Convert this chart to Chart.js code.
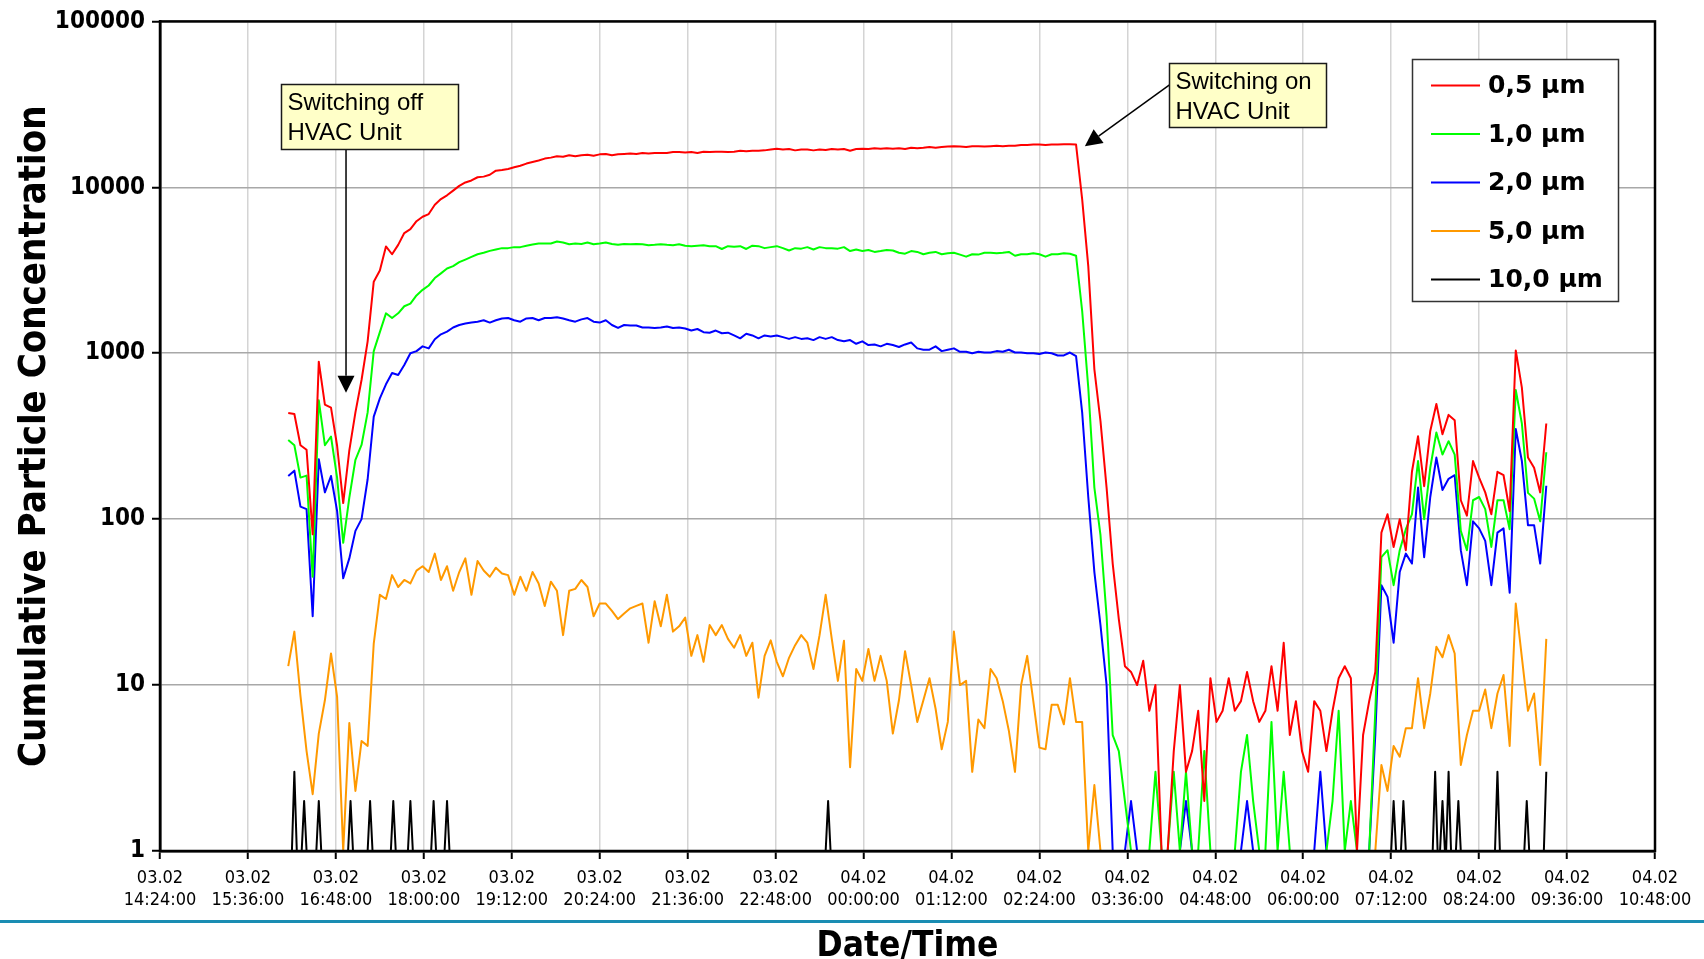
<!DOCTYPE html>
<html>
<head>
<meta charset="utf-8">
<title>Cumulative Particle Concentration</title>
<script src="https://cdn.jsdelivr.net/npm/chart.js@4.4.1/dist/chart.umd.min.js"></script>
<style>
  html, body { margin: 0; padding: 0; background: #fff; }
  #wrap { width: 1704px; height: 959px; position: relative; }
</style>
</head>
<body>
<div id="wrap"><canvas id="particleChart" width="1704" height="959"></canvas></div>
<script>
// x axis: minutes after 03.02 14:24:00
const tickMinutes = [0, 72, 144, 216, 288, 360, 432, 504, 576, 648, 720, 792, 864, 936, 1008, 1080, 1152, 1224];
const tickDates = ['03.02', '03.02', '03.02', '03.02', '03.02', '03.02', '03.02', '03.02',
  '04.02', '04.02', '04.02', '04.02', '04.02', '04.02', '04.02', '04.02', '04.02', '04.02'];
const tickTimes = ['14:24:00', '15:36:00', '16:48:00', '18:00:00', '19:12:00', '20:24:00', '21:36:00', '22:48:00',
  '00:00:00', '01:12:00', '02:24:00', '03:36:00', '04:48:00', '06:00:00', '07:12:00', '08:24:00', '09:36:00', '10:48:00'];
const yTickValues = [1, 10, 100, 1000, 10000, 100000];
const yTickLabels = ['1', '10', '100', '1000', '10000', '100000'];

const seriesLabels = ['0,5 µm', '1,0 µm', '2,0 µm', '5,0 µm', '10,0 µm'];

// counter samples, one every 5 minutes from 16:09
const startMinute = 105;
const stepMinutes = 5;

const red = [
  436, 430, 279, 262, 81, 890, 490, 470, 277, 125,
  260, 440, 690, 1180, 2700, 3150, 4400, 3950, 4500, 5300,
  5600, 6250, 6650, 6900, 7850, 8500, 8950, 9550, 10200, 10700,
  11000, 11500, 11600, 11900, 12600, 12700, 12900, 13200, 13500, 13900,
  14200, 14500, 14900, 15100, 15400, 15300, 15600, 15400, 15600, 15700,
  15500, 15800, 15900, 15600, 15800, 15900, 16000, 15900, 16100, 16000,
  16100, 16100, 16100, 16300, 16300, 16200, 16300, 16100, 16400, 16300,
  16400, 16400, 16300, 16400, 16600, 16500, 16600, 16600, 16700, 16900,
  17100, 16900, 17000, 16700, 16900, 16900, 16700, 16900, 16800, 17000,
  16900, 17000, 16600, 17000, 17100, 17000, 17200, 17100, 17200, 17100,
  17200, 17000, 17300, 17200, 17300, 17500, 17300, 17500, 17600, 17700,
  17600, 17500, 17700, 17700, 17600, 17700, 17800, 17700, 17800, 17800,
  18000, 18000, 18100, 18100, 18000, 18100, 18100, 18200, 18200, 18100,
  8500, 3350, 800, 390, 155, 54, 25, 13, 12, 10,
  14, 7, 10, 1, 1, 4, 10, 3, 4, 7,
  2, 11, 6, 7, 11, 7, 8, 12, 8, 6,
  7, 13, 7, 18, 5, 8, 4, 3, 8, 7,
  4, 7, 11, 13, 11, 1, 5, 8, 12, 83,
  107, 68, 100, 65, 193, 316, 158, 340, 495, 325,
  425, 395, 130, 105, 224, 178, 145, 107, 193, 184,
  112, 1040, 620, 235, 204, 145, 377
];

const green = [
  300, 279, 178, 183, 45, 520, 279, 315, 178, 72,
  135, 228, 280, 440, 1030, 1340, 1740, 1630, 1740, 1920,
  1990, 2230, 2410, 2560, 2840, 3030, 3240, 3350, 3540, 3670,
  3810, 3950, 4030, 4140, 4220, 4300, 4300, 4360, 4360, 4450,
  4520, 4580, 4580, 4590, 4710, 4650, 4540, 4590, 4560, 4650,
  4540, 4590, 4650, 4560, 4500, 4560, 4540, 4560, 4540, 4480,
  4500, 4540, 4500, 4480, 4540, 4450, 4420, 4450, 4480, 4420,
  4420, 4250, 4420, 4390, 4420, 4250, 4450, 4420, 4300, 4360,
  4420, 4300, 4160, 4300, 4270, 4360, 4220, 4360, 4300, 4300,
  4270, 4360, 4130, 4220, 4130, 4190, 4080, 4130, 4190, 4160,
  4030, 3980, 4130, 4080, 3950, 4030, 4080, 3950, 4000, 4030,
  3930, 3820, 3950, 3930, 4030, 4030, 4000, 4030, 4080, 3870,
  3950, 3950, 4000, 3950, 3820, 3950, 3950, 4000, 3980, 3870,
  1800, 620, 155, 80, 26, 5, 4, 2, 1, 1,
  1, 1, 3, 1, 1, 3, 1, 3, 1, 1,
  4, 1, 1, 1, 1, 1, 3, 5, 2, 1,
  1, 6, 1, 3, 1, 1, 1, 1, 1, 1,
  1, 2, 7, 1, 2, 1, 1, 1, 7, 59,
  65, 40, 65, 87, 107, 224, 100, 204, 333, 245,
  295, 245, 85, 65, 130, 136, 115, 68, 130, 130,
  87, 600, 377, 144, 133, 97, 253
];

const blue = [
  182, 196, 119, 115, 26, 230, 145, 182, 112, 44,
  58, 85, 100, 174, 415, 535, 650, 760, 740, 850,
  1000, 1030, 1100, 1070, 1215, 1300, 1350, 1430, 1480, 1510,
  1530, 1550, 1580, 1530, 1580, 1620, 1630, 1580, 1550, 1620,
  1630, 1580, 1630, 1630, 1650, 1620, 1580, 1550, 1600, 1630,
  1550, 1530, 1580, 1480, 1420, 1480, 1470, 1470, 1430, 1430,
  1420, 1430, 1450, 1420, 1430, 1410, 1370, 1400, 1340, 1330,
  1370, 1320, 1330, 1280, 1230, 1310, 1280, 1230, 1280, 1260,
  1280, 1250, 1220, 1250, 1220, 1230, 1200, 1250, 1220, 1250,
  1200, 1180, 1200, 1140, 1180, 1120, 1130, 1100, 1140, 1120,
  1090, 1130, 1160, 1070, 1050, 1050, 1100, 1030, 1050, 1070,
  1020, 1020, 1000, 1020, 1010, 1010, 1030, 1020, 1050, 1010,
  1010, 1000, 1000, 990, 1010, 1000, 970, 970, 1010, 960,
  440, 136, 48, 23, 10, 1, 1, 1, 2, 1,
  1, 1, 1, 1, 1, 1, 1, 2, 1, 1,
  1, 1, 1, 1, 1, 1, 1, 2, 1, 1,
  1, 1, 1, 1, 1, 1, 1, 1, 1, 3,
  1, 1, 1, 1, 1, 1, 1, 1, 5, 40,
  34, 18, 48, 62, 54, 155, 59, 136, 235, 150,
  175, 184, 65, 40, 97, 88, 74, 40, 83, 88,
  36, 350, 224, 92, 92, 54, 159
];

const orange = [
  13, 21, 8.6, 4, 2.2, 5.1, 8.1, 15.5, 8.5, 1,
  5.9, 2.3, 4.6, 4.3, 17.8, 35, 33, 46, 39, 43,
  41, 49, 52, 48, 62, 43, 52, 37, 48, 58,
  35, 56, 49, 45, 51, 47, 46, 35, 45, 37,
  48, 41, 30, 42, 37, 20, 37, 38, 43, 39,
  26, 31, 31, 28, 25, 27, 29, 30, 31, 18,
  32, 22.6, 35, 21, 22.6, 25.5, 15, 20, 13.8, 23,
  20, 23, 19, 16.8, 20, 15, 18, 8.4, 15, 18.6,
  13.8, 11.3, 14.6, 17.4, 20, 18, 12.5, 20, 35, 19,
  10.6, 18.5, 3.2, 12.5, 10.6, 16.5, 10.6, 15, 10.6, 5.1,
  8.1, 16, 10, 6, 8.1, 11, 7.2, 4.1, 6, 21,
  10, 10.6, 3, 6.2, 5.5, 12.5, 11, 8, 5.3, 3,
  10, 15, 8, 4.2, 4.1, 7.6, 7.6, 5.8, 11, 6,
  6, 1, 2.5, 1, 1, 1, 1, 1, 1, 1,
  1, 1, 1, 1, 1, 1, 1, 1, 1, 1,
  1, 1, 1, 1, 1, 1, 1, 1, 1, 1,
  1, 1, 1, 1, 1, 1, 1, 1, 1, 1,
  1, 1, 1, 1, 1, 1, 1, 1, 1, 3.3,
  2.3, 4.3, 3.7, 5.5, 5.5, 11, 5.5, 8.9, 17, 14.7,
  20, 15.5, 3.3, 5, 7, 7, 9.4, 5.5, 8.9, 11.5,
  4.3, 31, 14.7, 7, 8.9, 3.3, 19
];

// the 10 µm counter only shows short spikes, so it keeps its own time points
const tenMinutes = [105, 108, 110, 112, 116, 118, 120, 128, 130, 132, 154, 156, 158, 170, 172, 174,
  189, 191, 193, 203, 205, 207, 222, 224, 226, 233, 235, 237, 545, 547, 549,
  1008, 1010, 1012, 1016, 1018, 1020, 1042, 1044, 1046, 1048, 1050, 1052, 1053, 1055, 1057,
  1061, 1063, 1065, 1093, 1095, 1097, 1117, 1119, 1121, 1133, 1135];
const tenValues = [1, 1, 3, 1, 1, 2, 1, 1, 2, 1, 1, 2, 1, 1, 2, 1,
  1, 2, 1, 1, 2, 1, 1, 2, 1, 1, 2, 1, 1, 2, 1,
  1, 2, 1, 1, 2, 1, 1, 3, 1, 1, 2, 1, 1, 3, 1,
  1, 2, 1, 1, 3, 1, 1, 2, 1, 1, 3];

const callouts = [
  { lines: ['Switching off', 'HVAC Unit'], boxMinute: 98.8, boxValue: 42000, w: 177, h: 65,
    side: 'bottom', tipMinute: 152.3, tipValue: 578 },
  { lines: ['Switching on', 'HVAC Unit'], boxMinute: 826.2, boxValue: 55900, w: 157, h: 64,
    side: 'left', tipMinute: 757.2, tipValue: 17700 }
];

const condensed = '"DejaVu Sans Condensed", "DejaVu Sans", sans-serif';

function sampled(values) {
  return values.map((v, i) => ({ x: startMinute + i * stepMinutes, y: v }));
}

const framePlugin = {
  id: 'plotFrame',
  afterDatasetsDraw(chart) {
    const { ctx, chartArea: a } = chart;
    ctx.save();
    ctx.strokeStyle = '#000';
    ctx.lineWidth = 2.5;
    ctx.strokeRect(a.left, a.top, a.right - a.left, a.bottom - a.top);
    ctx.restore();
  }
};

const legendPlugin = {
  id: 'boxLegend',
  afterDraw(chart) {
    const ctx = chart.ctx;
    ctx.save();
    ctx.fillStyle = '#fff';
    ctx.fillRect(1412, 59, 206, 242);
    ctx.strokeStyle = '#333';
    ctx.lineWidth = 1.5;
    ctx.strokeRect(1412.5, 59.5, 206, 242);
    ctx.font = 'bold 25px "DejaVu Sans", sans-serif';
    ctx.textBaseline = 'middle';
    chart.data.datasets.forEach((ds, i) => {
      const y = 85.5 + i * 48.5;
      ctx.strokeStyle = ds.borderColor;
      ctx.lineWidth = 2;
      ctx.beginPath();
      ctx.moveTo(1431, y);
      ctx.lineTo(1480, y);
      ctx.stroke();
      ctx.fillStyle = '#000';
      ctx.fillText(ds.label, 1488, y + 1);
    });
    ctx.restore();
  }
};

const calloutPlugin = {
  id: 'callouts',
  afterDraw(chart) {
    const { ctx, scales: { x, y } } = chart;
    ctx.save();
    callouts.forEach(c => {
      const bx = Math.round(x.getPixelForValue(c.boxMinute)) + 0.5;
      const by = Math.round(y.getPixelForValue(c.boxValue)) + 0.5;
      const tx = x.getPixelForValue(c.tipMinute);
      const ty = y.getPixelForValue(c.tipValue);
      let sx, sy;
      if (c.side === 'bottom') { sx = tx; sy = by + c.h; } else { sx = bx; sy = by + c.h / 3; }
      const ang = Math.atan2(ty - sy, tx - sx);
      const head = 17, half = 8.5;
      const hx = tx - head * Math.cos(ang), hy = ty - head * Math.sin(ang);
      ctx.strokeStyle = '#000';
      ctx.lineWidth = 1.5;
      ctx.beginPath();
      ctx.moveTo(sx, sy);
      ctx.lineTo(hx, hy);
      ctx.stroke();
      ctx.fillStyle = '#000';
      ctx.beginPath();
      ctx.moveTo(tx, ty);
      ctx.lineTo(hx + half * Math.sin(ang), hy - half * Math.cos(ang));
      ctx.lineTo(hx - half * Math.sin(ang), hy + half * Math.cos(ang));
      ctx.closePath();
      ctx.fill();

      ctx.fillStyle = '#ffffc8';
      ctx.fillRect(bx, by, c.w, c.h);
      ctx.strokeStyle = '#1a1a1a';
      ctx.strokeRect(bx, by, c.w, c.h);
      ctx.fillStyle = '#000';
      ctx.font = '24px "Liberation Sans", Arial, sans-serif';
      ctx.textBaseline = 'middle';
      c.lines.forEach((t, k) => ctx.fillText(t, bx + 6, by + 19 + k * 29.5));
    });
    ctx.restore();
  }
};

const footerPlugin = {
  id: 'footerRule',
  afterDraw(chart) {
    const ctx = chart.ctx;
    ctx.save();
    ctx.fillStyle = '#1a8db3';
    ctx.fillRect(0, 920, chart.width, 3);
    ctx.restore();
  }
};

const ctx = document.getElementById('particleChart').getContext('2d');
new Chart(ctx, {
  type: 'line',
  data: {
    datasets: [
      { label: seriesLabels[0], data: sampled(red), borderColor: '#ff0000' },
      { label: seriesLabels[1], data: sampled(green), borderColor: '#00ff00' },
      { label: seriesLabels[2], data: sampled(blue), borderColor: '#0000ff' },
      { label: seriesLabels[3], data: sampled(orange), borderColor: '#ff9900' },
      { label: seriesLabels[4], data: tenMinutes.map((m, i) => ({ x: m, y: tenValues[i] })), borderColor: '#000000' }
    ]
  },
  options: {
    responsive: false,
    devicePixelRatio: 1,
    animation: false,
    layout: { padding: { left: 0, top: 20, right: 49, bottom: 0 } },
    elements: {
      point: { radius: 0, hoverRadius: 0 },
      line: { borderWidth: 2, tension: 0, fill: false, borderJoinStyle: 'round' }
    },
    plugins: {
      legend: { display: false },
      tooltip: { enabled: false }
    },
    scales: {
      x: {
        type: 'linear',
        min: 0,
        max: 1224,
        afterBuildTicks: axis => { axis.ticks = tickMinutes.map(v => ({ value: v })); },
        afterFit: scale => { scale.height = 108; },
        ticks: {
          autoSkip: false,
          maxRotation: 0,
          padding: 8,
          color: '#000',
          font: { family: condensed, size: 18, lineHeight: 1.25 },
          callback: (v, i) => [tickDates[i], tickTimes[i]]
        },
        grid: { color: '#d4d4d4', lineWidth: 1.5, tickColor: '#000', tickLength: 8, tickWidth: 2 },
        border: { display: true, color: '#000', width: 2.5 },
        title: {
          display: true,
          text: 'Date/Time',
          color: '#000',
          padding: { top: 0, bottom: 0 },
          font: { family: condensed, size: 35, weight: 'bold', lineHeight: 0.7 }
        }
      },
      y: {
        type: 'logarithmic',
        min: 1,
        max: 100000,
        afterBuildTicks: axis => { axis.ticks = yTickValues.map(v => ({ value: v })); },
        afterFit: scale => { scale.width = 160; },
        ticks: {
          padding: 7,
          color: '#000',
          font: { family: condensed, size: 24, weight: 'bold' },
          callback: (v, i) => yTickLabels[i]
        },
        grid: { color: '#a8a8a8', lineWidth: 1.5, tickColor: '#000', tickLength: 8, tickWidth: 2 },
        border: { display: true, color: '#000', width: 2.5 },
        title: {
          display: true,
          text: 'Cumulative Particle Concentration',
          color: '#000',
          padding: { top: 12, bottom: 0 },
          font: { family: condensed, size: 38, weight: 'bold', lineHeight: 1.2 }
        }
      }
    }
  },
  plugins: [framePlugin, legendPlugin, calloutPlugin, footerPlugin]
});
</script>
</body>
</html>
